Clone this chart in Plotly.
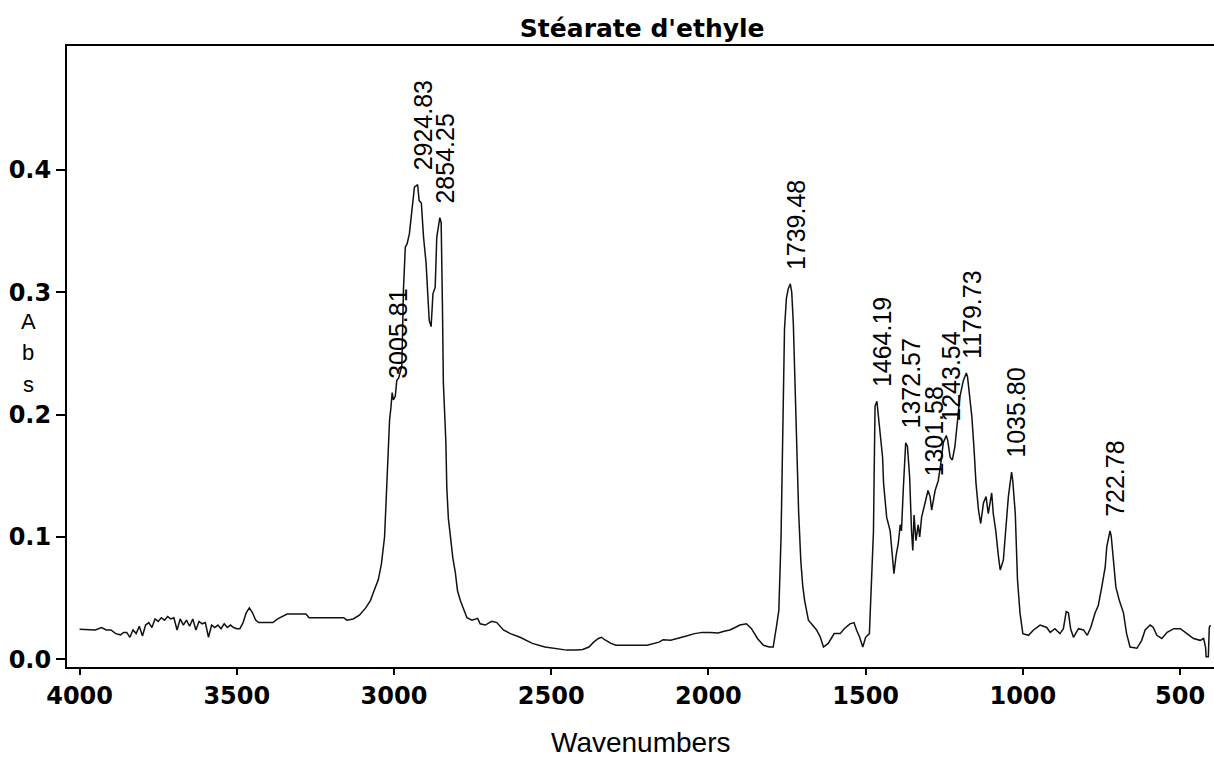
import plotly.graph_objects as go

# ---- data ----
wavenumber = [
    4000, 3975, 3950, 3930, 3915, 3900, 3885, 3870, 3860, 3850, 3840, 3830, 3820, 3810,
    3800, 3790, 3780, 3770, 3760, 3750, 3740, 3730, 3720, 3710, 3700, 3690, 3680, 3670,
    3660, 3650, 3640, 3630, 3620, 3610, 3600, 3590, 3580, 3570, 3560, 3550, 3540, 3530,
    3520, 3510, 3500, 3490, 3480, 3470, 3460, 3450, 3440, 3430, 3400, 3385, 3370, 3340,
    3280, 3270, 3160, 3150, 3130, 3110, 3090, 3075, 3065, 3050, 3040, 3030, 3025, 3018,
    3014, 3010, 3005.81, 3002, 2996, 2991, 2985, 2975, 2970, 2964, 2958, 2951, 2943, 2935,
    2924.83, 2920, 2913, 2906, 2898, 2892, 2888, 2882, 2876, 2869, 2864, 2854.25, 2850,
    2846, 2843, 2838, 2835, 2832, 2827, 2819, 2813, 2805, 2798, 2789, 2781, 2768, 2752,
    2734, 2726, 2710, 2689, 2673, 2652, 2630, 2599, 2560, 2520, 2480, 2450, 2420, 2400,
    2380, 2365, 2350, 2340, 2330, 2310, 2294, 2195, 2157, 2144, 2120, 2094, 2070, 2044,
    2020, 1995, 1969, 1950, 1932, 1915, 1900, 1879, 1863, 1844, 1825, 1807, 1794, 1784,
    1776, 1769, 1763, 1758, 1752, 1746, 1739.48, 1735, 1730, 1725, 1720, 1713, 1706, 1700,
    1694, 1682, 1669, 1656, 1644, 1634, 1619, 1600, 1581, 1568, 1550, 1537, 1529, 1519,
    1509, 1500, 1488, 1484, 1478, 1475, 1473, 1470, 1464.19, 1459, 1451, 1446, 1443, 1433,
    1422, 1415, 1410, 1403, 1396, 1390, 1386, 1380, 1372.57, 1367, 1360, 1354, 1350, 1346,
    1340, 1333, 1328, 1322, 1311, 1301.58, 1295, 1290, 1279, 1269, 1261, 1253, 1243.54,
    1239, 1231, 1224, 1216, 1208, 1200, 1189, 1179.73, 1176, 1170, 1162, 1155, 1149, 1141,
    1134, 1125, 1117, 1110, 1099, 1094, 1086, 1078, 1072, 1062, 1053, 1046, 1035.80, 1032,
    1024, 1017, 1009, 1000, 982, 966, 945, 924, 913, 898, 882, 871, 862, 855, 848, 839,
    823, 807, 795, 784, 770, 760, 749, 738, 733, 722.78, 719, 712, 704, 693, 680, 670,
    659, 637, 622, 611, 595, 585, 574, 558, 541, 520, 499, 478, 457, 436, 425, 419, 417,
    410, 408, 407, 403,
]
absorbance = [
    0.0245, 0.0245, 0.024, 0.026, 0.024, 0.024, 0.021, 0.020, 0.022, 0.022, 0.018, 0.024, 0.021, 0.027,
    0.019, 0.028, 0.030, 0.026, 0.033, 0.031, 0.034, 0.032, 0.035, 0.033, 0.034, 0.024, 0.033, 0.028,
    0.032, 0.027, 0.033, 0.024, 0.031, 0.029, 0.030, 0.018, 0.028, 0.026, 0.028, 0.025, 0.029, 0.026,
    0.028, 0.026, 0.025, 0.025, 0.030, 0.038, 0.042, 0.038, 0.032, 0.030, 0.030, 0.030, 0.033, 0.037,
    0.037, 0.034, 0.034, 0.032, 0.033, 0.036, 0.042, 0.048, 0.055, 0.065, 0.078, 0.100, 0.130, 0.170,
    0.196, 0.205, 0.218, 0.212, 0.215, 0.228, 0.230, 0.240, 0.302, 0.337, 0.340, 0.348, 0.365, 0.386,
    0.388, 0.375, 0.373, 0.345, 0.324, 0.299, 0.277, 0.272, 0.299, 0.304, 0.345, 0.361, 0.357,
    0.290, 0.226, 0.196, 0.177, 0.140, 0.115, 0.097, 0.083, 0.071, 0.056, 0.048, 0.042, 0.034, 0.032,
    0.0335, 0.029, 0.028, 0.031, 0.030, 0.024, 0.021, 0.018, 0.013, 0.010, 0.0085, 0.0075, 0.0075, 0.008,
    0.010, 0.014, 0.017, 0.018, 0.016, 0.013, 0.0115, 0.0115, 0.014, 0.016, 0.0155, 0.017, 0.019, 0.021,
    0.022, 0.022, 0.0215, 0.023, 0.024, 0.026, 0.028, 0.029, 0.025, 0.017, 0.0115, 0.010, 0.010, 0.026,
    0.040, 0.100, 0.200, 0.270, 0.295, 0.303, 0.307, 0.300, 0.275, 0.230, 0.170, 0.120, 0.080, 0.060,
    0.048, 0.032, 0.028, 0.024, 0.018, 0.010, 0.013, 0.021, 0.021, 0.025, 0.029, 0.030, 0.024, 0.018,
    0.010, 0.018, 0.021, 0.048, 0.080, 0.105, 0.149, 0.207, 0.211, 0.198, 0.182, 0.165, 0.144, 0.116,
    0.105, 0.080, 0.070, 0.085, 0.095, 0.110, 0.105, 0.140, 0.177, 0.174, 0.149, 0.105, 0.089, 0.118,
    0.097, 0.110, 0.100, 0.116, 0.128, 0.138, 0.133, 0.122, 0.138, 0.146, 0.160, 0.177, 0.183,
    0.179, 0.165, 0.163, 0.174, 0.198, 0.215, 0.228, 0.234, 0.231, 0.217, 0.198, 0.171, 0.144, 0.122,
    0.111, 0.128, 0.133, 0.119, 0.136, 0.119, 0.105, 0.085, 0.073, 0.081, 0.111, 0.133, 0.153, 0.146,
    0.119, 0.065, 0.038, 0.021, 0.0196, 0.024, 0.028, 0.026, 0.022, 0.025, 0.021, 0.025, 0.039, 0.038, 0.025, 0.018,
    0.025, 0.024, 0.0196, 0.026, 0.038, 0.044, 0.059, 0.0755, 0.092, 0.105, 0.101, 0.084, 0.059, 0.048, 0.038, 0.021,
    0.010, 0.009, 0.0155, 0.024, 0.028, 0.026, 0.0196, 0.017, 0.022, 0.025, 0.025, 0.021, 0.017, 0.0155, 0.017, 0.010, 0.002,
    0.002, 0.015, 0.026, 0.028,
]

peak_wn = [3005.81, 2924.83, 2854.25, 1739.48, 1464.19, 1372.57, 1301.58, 1243.54, 1179.73, 1035.80, 722.78]
peak_abs = [0.218, 0.388, 0.361, 0.307, 0.211, 0.177, 0.138, 0.183, 0.234, 0.153, 0.105]

x_ticks = [4000, 3500, 3000, 2500, 2000, 1500, 1000, 500]
y_ticks = [0.0, 0.1, 0.2, 0.3, 0.4]

title_text = "Stéarate d'ethyle"
x_title = "Wavenumbers"
y_title_letters = ["A", "b", "s"]

# ---- figure ----
fig = go.Figure()
fig.add_trace(go.Scatter(
    x=wavenumber, y=absorbance, mode="lines",
    line=dict(color="#111111", width=1.5), hoverinfo="skip", showlegend=False,
))

annotations = []
for wn, ab in zip(peak_wn, peak_abs):
    annotations.append(dict(
        x=wn, y=ab, xref="x", yref="y", text=f"{wn:.2f}", showarrow=False,
        textangle=-90, xanchor="center", yanchor="bottom", xshift=5, yshift=12,
        font=dict(family="Liberation Sans, Arial, sans-serif", size=25, color="black"),
    ))

annotations.append(dict(
    x=0.5, y=-0.122, xref="paper", yref="paper", text=x_title, showarrow=False,
    xanchor="center", yanchor="middle",
    font=dict(family="Liberation Sans, Arial, sans-serif", size=28, color="black"),
))
for letter, ypos in zip(y_title_letters, [0.5560, 0.5070, 0.4550]):
    annotations.append(dict(
        x=0, y=ypos, xref="paper", yref="paper", text=letter, showarrow=False,
        xanchor="center", yanchor="middle", xshift=-39,
        font=dict(family="Liberation Sans, Arial, sans-serif", size=22, color="black"),
    ))

fig.update_layout(
    width=1214, height=758,
    margin=dict(l=67, r=0, t=46, b=91, pad=0),
    paper_bgcolor="white", plot_bgcolor="white",
    title=dict(text=title_text, x=0.529, xanchor="center", y=1 - 28 / 758, yanchor="middle",
               yref="container", xref="container",
               font=dict(family="DejaVu Sans, sans-serif", size=25, color="black", weight="bold")),
    annotations=annotations,
    xaxis=dict(
        range=[4040, 392], tickvals=x_ticks, ticktext=[str(v) for v in x_ticks],
        showline=True, linecolor="black", linewidth=2, mirror=True,
        ticks="outside", ticklen=6, tickwidth=1.5, tickcolor="black",
        showgrid=False, zeroline=False,
        tickfont=dict(family="DejaVu Sans, sans-serif", size=24, color="black", weight="bold"),
    ),
    yaxis=dict(
        range=[-0.0063, 0.5014], tickvals=y_ticks, ticktext=[f"{v:.1f}" for v in y_ticks],
        showline=True, linecolor="black", linewidth=2,
        ticks="outside", ticklen=9, tickwidth=1.5, tickcolor="black",
        showgrid=False, zeroline=False,
        tickfont=dict(family="DejaVu Sans, sans-serif", size=24, color="black", weight="bold"),
    ),
)

fig.write_html("out.html")
